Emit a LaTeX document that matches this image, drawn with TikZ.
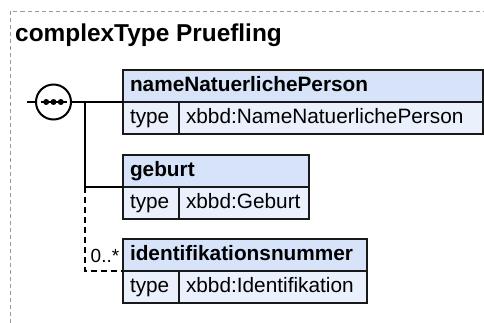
\documentclass[tikz,border=0pt]{standalone}
\usepackage{fontspec}
\setmainfont{Liberation Sans}
\definecolor{headblue}{RGB}{214,227,249}
\definecolor{rowblue}{RGB}{234,241,253}

\begin{document}
\begin{tikzpicture}[x=1pt, y=-1pt,
    % Styles
    frame/.style={draw=black!40, dash pattern=on 4pt off 3pt, line width=1pt},
    title/.style={font=\bfseries\fontsize{24.4pt}{28pt}\selectfont, inner sep=0pt, anchor=base west},
    boxcell/.style={draw=black!90, line width=2pt, minimum height=32pt, inner xsep=7pt, inner ysep=0pt, outer sep=0pt,
      text height=15pt, text depth=4pt, align=left, anchor=north west, font=\fontsize{20.8pt}{25pt}\selectfont},
    elemhead/.style={boxcell, fill=headblue, font=\bfseries\fontsize{20.8pt}{25pt}\selectfont},  % element name
    elemrow/.style={boxcell, fill=rowblue},                                                     % type row
    conn/.style={line width=1.8pt},
    seqcirc/.style={circle, draw, line width=2pt, fill=white, minimum size=35pt, inner sep=0pt, outer sep=0pt},
    mult/.style={font=\fontsize{19pt}{23pt}\selectfont, inner sep=0pt}
]

  \useasboundingbox (0,0) rectangle (484,323);

  % Dashed frame of the complex type
  \draw[frame] (10,323) -- (10,11.5) -- (484,11.5);
  \node[title] (title) at (15,41.7) {complexType Pruefling};

  % Elements: name header and type row
  \foreach \nm/\ytop/\boxw/\hd/\tp in {np/70/360/nameNatuerlichePerson/xbbd:NameNatuerlichePerson,
      geb/155/186/geburt/xbbd:Geburt, id/239/244/identifikationsnummer/xbbd:Identifikation} {
    \pgfmathsetmacro\headw{\boxw-14}
    \pgfmathsetmacro\valw{\boxw-56-14}
    \node[elemhead, text width=\headw pt] (\nm-head) at (123,\ytop) {\hd};
    \node[elemrow, text width=42pt] (\nm-key) at (\nm-head.south west) {type};
    \node[elemrow, text width=\valw pt] (\nm-val) at (\nm-key.north east) {\tp};
  }

  % Sequence compositor
  \coordinate (seqin) at (27,102);
  \node[seqcirc] (seq) at (53.5,102) {};
  \draw[line width=1.2pt] ([xshift=-13pt]seq.center) -- ([xshift=13pt]seq.center);
  \foreach \dx in {-7.3,0,7.3} {
    \fill ([xshift=\dx pt]seq.center) circle (3pt);
  }
  \draw[conn] (seqin) -- (seq.west);
  \draw[conn] (seq.east) -- (np-head.south west);

  % Branches to the elements
  \coordinate (branch) at (85,102);
  \draw[conn] (branch) |- (geb-head.south west);
  \draw[conn, dash pattern=on 6pt off 4pt] (branch |- geb-head.south west) |- (id-head.south west);
  \node[mult, anchor=base west, xshift=5.5pt, yshift=9pt] (idmult) at (branch |- id-head.south west) {0..*};

\end{tikzpicture}
\end{document}
